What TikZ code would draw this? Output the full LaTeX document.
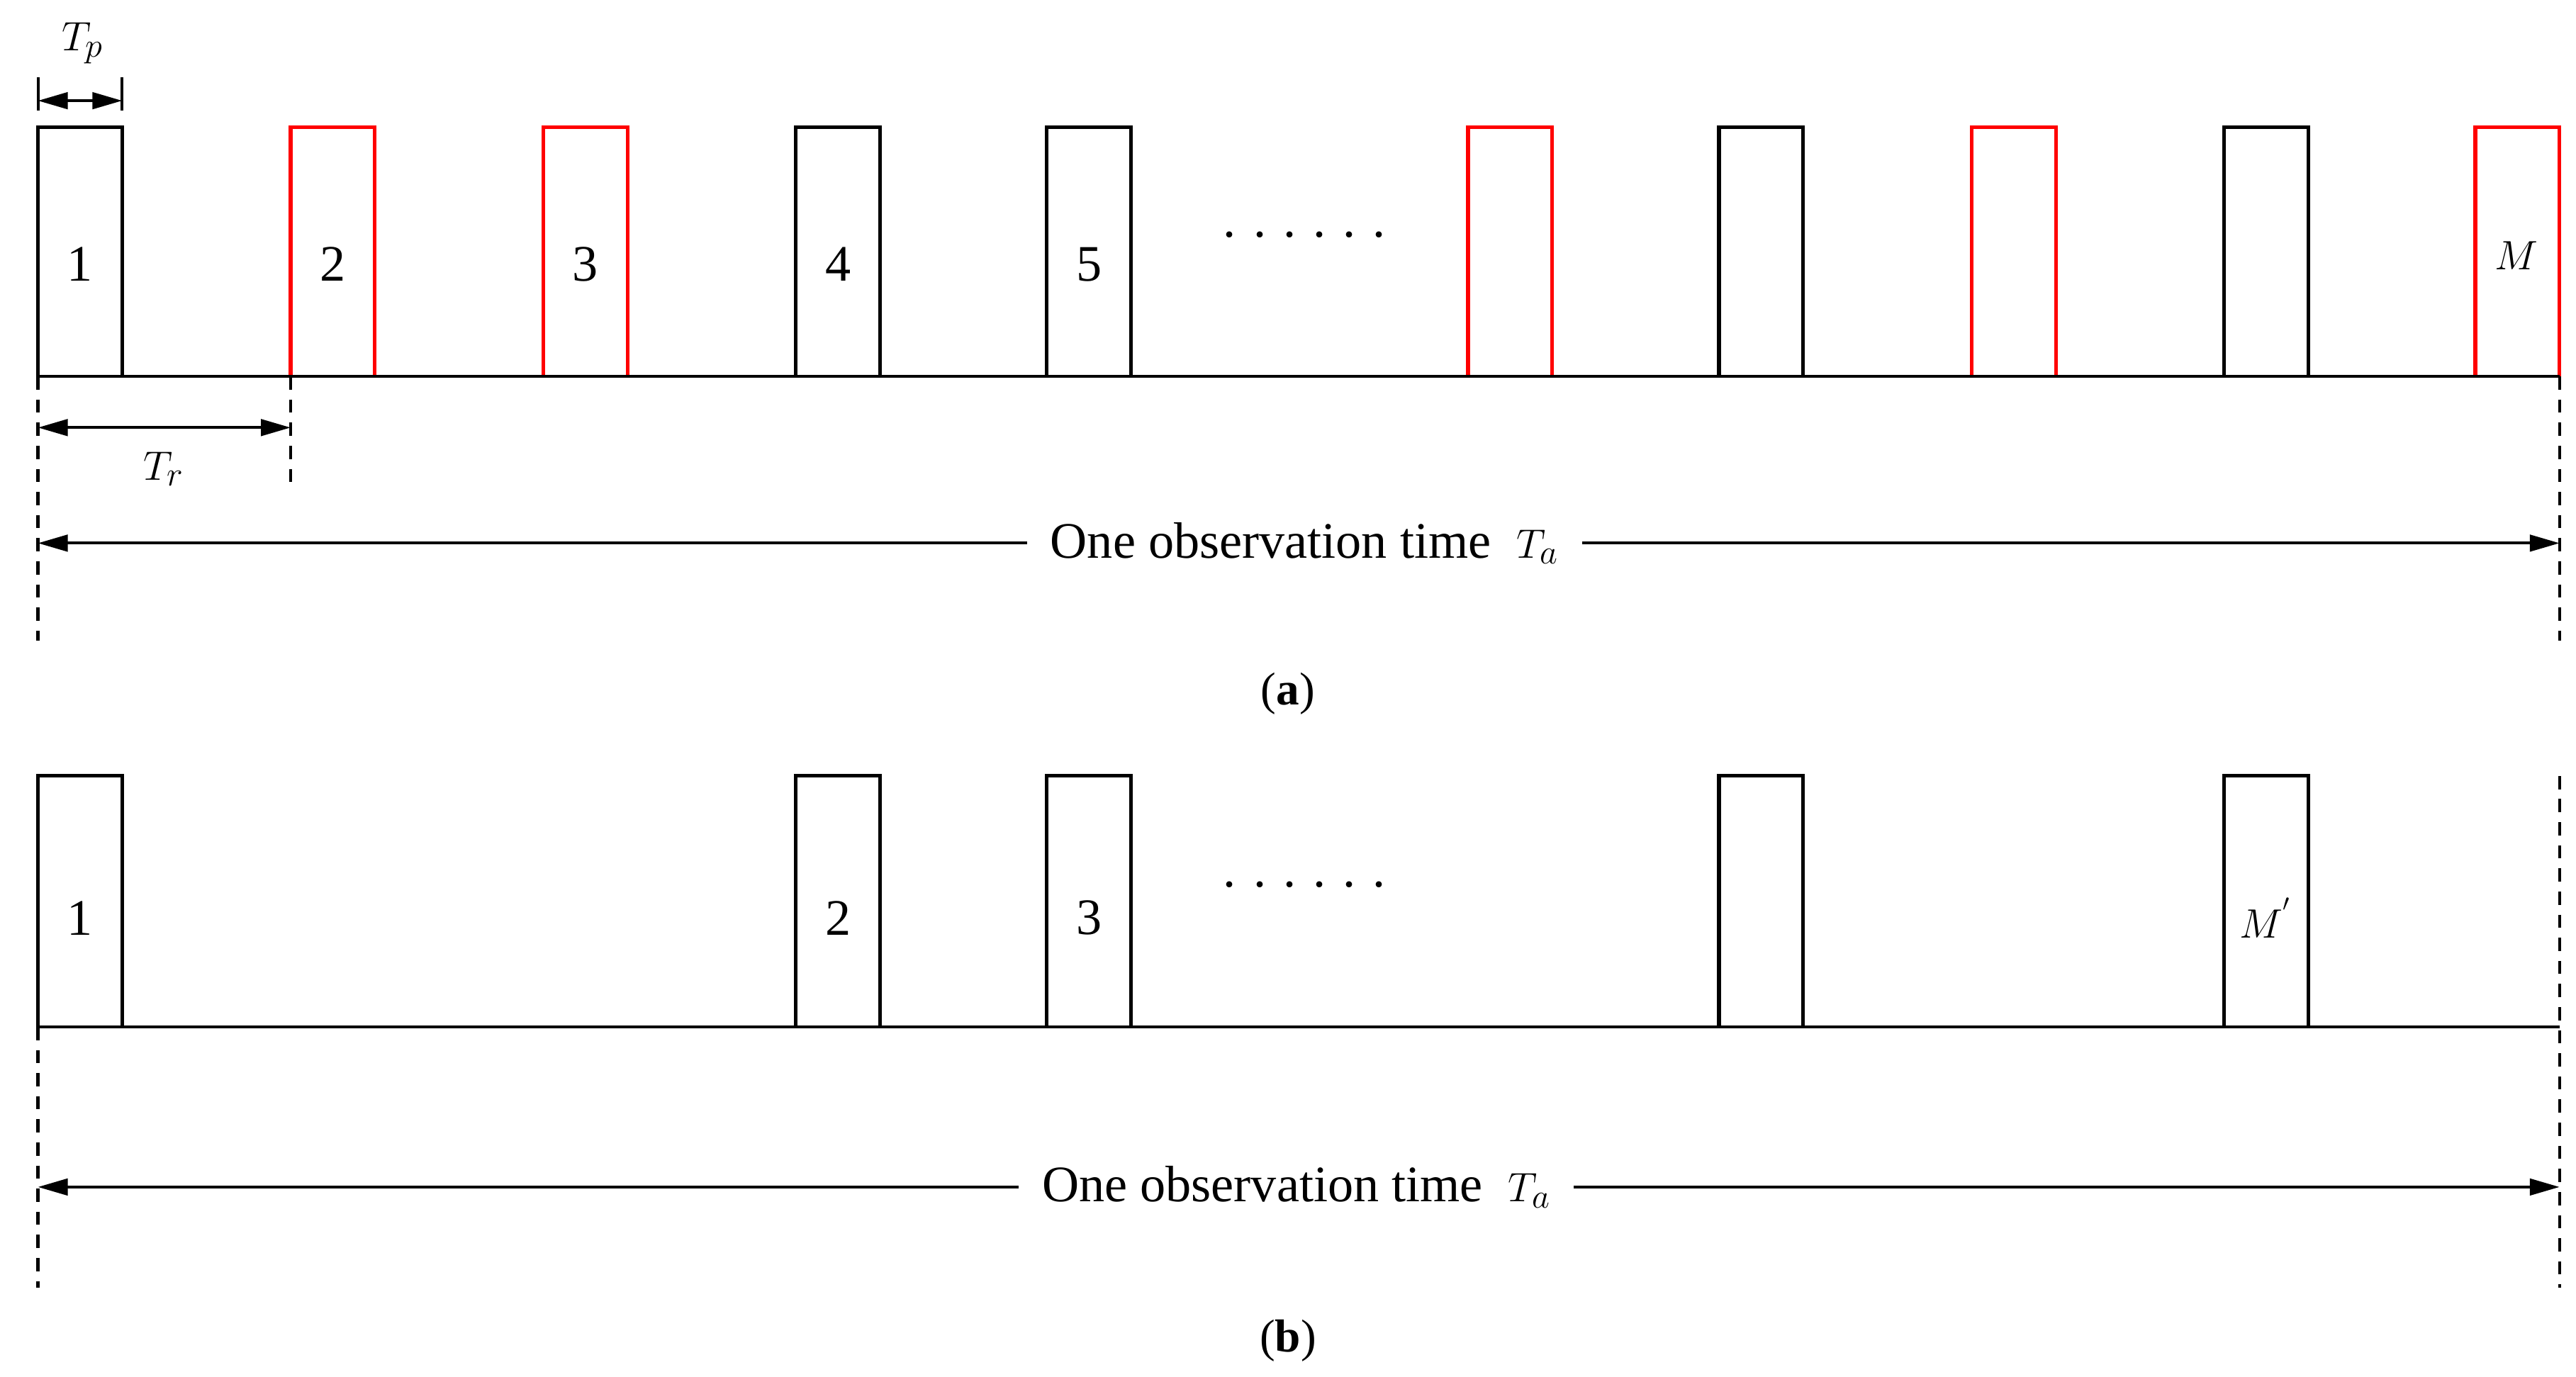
\documentclass[tikz,border=0pt]{standalone}
\usepackage{fontspec}
\setmainfont{Liberation Serif}
\usetikzlibrary{arrows.meta}
\begin{document}
\begin{tikzpicture}[x=1pt,y=-1pt,
  pulse/.style={line width=2.2pt},
  base/.style={line width=1.7pt},
  dim/.style={line width=1.7pt,{Triangle[length=18pt,width=10pt]}-{Triangle[length=18pt,width=10pt]}},
  guide/.style={line width=1.8pt,dash pattern=on 8pt off 6pt},
  lab/.style={font=\fontsize{31}{36}\selectfont},
  captext/.style={font=\fontsize{28}{32}\selectfont}]
\useasboundingbox (0,0) rectangle (1560,834);
% panel (a)
\foreach \x/\c in {23/black,176/red,329/red,482/black,634/black,889/red,1041/black,1194/red,1347/black,1499/red}
  \draw[pulse,draw=\c] (\x,228) -- (\x,77) -- ++(51,0) -- ++(0,151);
\draw[base] (23,228) -- (1550,228);
\foreach \x/\t [count=\i] in {48.5/1,201.5/2,354.5/3,507.5/4,659.5/5}
  \node[lab] (na\i) at (\x,160) {\t};
\node[lab] (naM) at (1524,155) {$M$};
\node[lab] (dotsa) at (790,142) {. . . . . .};
\coordinate (tpl) at (23,61); \coordinate (tpr) at (74,61);
\draw[base] (23,47) -- (23,67); \draw[base] (74,47) -- (74,67);
\draw[dim] (tpl) -- (tpr);
\node[lab] (tp) at (50,26) {$T_p$};
\coordinate (trl) at (23,259); \coordinate (trr) at (176,259);
\draw[guide] (176,228) -- (176,292);
\draw[dim] (trl) -- (trr);
\node[lab] (tr) at (99,284) {$T_r$};
\draw[guide] (23,228) -- (23,388);
\draw[guide] (1550,228) -- (1550,388);
\node[lab,fill=white,inner xsep=14pt] (taa) at (790,329) {One observation time\ \ $T_a$};
\coordinate (tal) at (23,329); \coordinate (tar) at (1550,329);
\draw[line width=1.7pt,{Triangle[length=18pt,width=10pt]}-] (tal) -- (taa.west);
\draw[line width=1.7pt,-{Triangle[length=18pt,width=10pt]}] (taa.east) -- (tar);
\node[captext] (capa) at (780,420) {(\textbf{a})};
% panel (b)
\foreach \x in {23,482,634,1041,1347}
  \draw[pulse] (\x,622) -- (\x,470) -- ++(51,0) -- ++(0,152);
\draw[base] (23,622) -- (1550,622);
\node[lab] (nb1) at (48.5,556) {1};
\node[lab] (nb2) at (507.5,556) {2};
\node[lab] (nb3) at (659.5,556) {3};
\node[lab] (nbM) at (1372,556) {$M^{'}$};
\node[lab] (dotsb) at (790,536) {. . . . . .};
\draw[guide] (23,622) -- (23,780);
\draw[guide] (1550,470) -- (1550,780);
\node[lab,fill=white,inner xsep=14pt] (tab) at (785,719) {One observation time\ \ $T_a$};
\coordinate (tbl) at (23,719); \coordinate (tbr) at (1550,719);
\draw[line width=1.7pt,{Triangle[length=18pt,width=10pt]}-] (tbl) -- (tab.west);
\draw[line width=1.7pt,-{Triangle[length=18pt,width=10pt]}] (tab.east) -- (tbr);
\node[captext] (capb) at (780,812) {(\textbf{b})};
\end{tikzpicture}
\end{document}
